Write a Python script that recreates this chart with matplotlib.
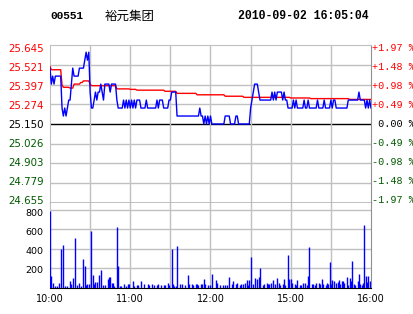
import numpy as np
import matplotlib
matplotlib.use("Agg")
import matplotlib.pyplot as plt
from matplotlib import transforms

# ---------------- data ----------------
stock_code = "00551"
stock_name = "裕元集团"
timestamp = "2010-09-02 16:05:04"
prev_close = 25.150

price = [
    25.50, 25.40, 25.45, 25.40, 25.45, 25.45, 25.45, 25.45, 25.45, 25.25,
    25.20, 25.25, 25.20, 25.25, 25.30, 25.30, 25.40, 25.50, 25.45, 25.45,
    25.45, 25.45, 25.50, 25.50, 25.50, 25.50, 25.55, 25.60, 25.55, 25.60,
    25.35, 25.25, 25.25, 25.30, 25.35, 25.30, 25.35, 25.35, 25.40, 25.35,
    25.30, 25.40, 25.40, 25.40, 25.40, 25.35, 25.40, 25.40, 25.40, 25.40,
    25.30, 25.25, 25.25, 25.25, 25.25, 25.30, 25.25, 25.30, 25.25, 25.30,
    25.25, 25.30, 25.25, 25.30, 25.25, 25.30, 25.30, 25.30, 25.25, 25.25,
    25.25, 25.25, 25.30, 25.25, 25.25, 25.25, 25.25, 25.25, 25.25, 25.25,
    25.30, 25.25, 25.30, 25.30, 25.30, 25.25, 25.25, 25.25, 25.25, 25.30,
    25.30, 25.35, 25.35, 25.35, 25.35, 25.20, 25.20, 25.20, 25.20, 25.20,
    25.20, 25.20, 25.20, 25.20, 25.20, 25.20, 25.20, 25.20, 25.20, 25.20,
    25.20, 25.20, 25.25, 25.20, 25.20, 25.15, 25.20, 25.15, 25.20, 25.15,
    25.20, 25.15, 25.15, 25.15, 25.15, 25.15, 25.15, 25.15, 25.15, 25.15,
    25.15, 25.20, 25.20, 25.20, 25.20, 25.15, 25.15, 25.15, 25.15, 25.20,
    25.20, 25.15, 25.15, 25.15, 25.15, 25.15, 25.15, 25.15, 25.15, 25.15,
    25.25, 25.30, 25.35, 25.40, 25.40, 25.40, 25.35, 25.30, 25.30, 25.30,
    25.30, 25.30, 25.30, 25.30, 25.30, 25.30, 25.35, 25.30, 25.35, 25.30,
    25.35, 25.35, 25.35, 25.35, 25.30, 25.35, 25.30, 25.30, 25.25, 25.25,
    25.25, 25.25, 25.30, 25.25, 25.30, 25.25, 25.25, 25.25, 25.25, 25.25,
    25.30, 25.25, 25.25, 25.30, 25.25, 25.25, 25.25, 25.25, 25.25, 25.25,
    25.30, 25.25, 25.25, 25.25, 25.25, 25.30, 25.25, 25.25, 25.25, 25.25,
    25.30, 25.25, 25.30, 25.30, 25.25, 25.25, 25.25, 25.25, 25.25, 25.25,
    25.25, 25.25, 25.25, 25.30, 25.30, 25.30, 25.30, 25.30, 25.30, 25.30,
    25.30, 25.35, 25.30, 25.30, 25.30, 25.30, 25.25, 25.30, 25.25, 25.30,
    25.25,
]

# average price line: value holds from each start minute to the next
avg_start = [0, 1, 9, 10, 15, 18, 23, 25, 30, 31, 50, 60, 65, 86, 95, 110,
             131, 145, 180, 195, 224, 240]
avg_value = [25.51, 25.49, 25.395, 25.38, 25.375, 25.40, 25.41, 25.42, 25.40,
             25.39, 25.37, 25.367, 25.362, 25.355, 25.342, 25.333, 25.324,
             25.317, 25.313, 25.309, 25.304, 25.304]

vol_minute = [0, 1, 2, 4, 5, 7, 8, 10, 11, 13, 15, 16, 17, 19, 20, 22, 23, 25, 26, 27,
              28, 29, 31, 32, 33, 34, 35, 37, 38, 40, 41, 43, 44, 45, 46, 47, 48, 50, 51, 52,
              53, 55, 57, 58, 59, 62, 63, 65, 66, 68, 70, 73, 74, 76, 78, 80, 81, 83, 85, 86,
              88, 89, 91, 92, 93, 94, 95, 97, 99, 101, 103, 104, 106, 107, 109, 110, 111, 113, 114, 115,
              116, 118, 120, 121, 124, 125, 127, 129, 131, 132, 134, 136, 137, 139, 140, 142, 143, 144, 146, 147,
              148, 149, 150, 152, 153, 155, 156, 157, 159, 160, 162, 163, 164, 165, 167, 168, 170, 171, 172, 174,
              175, 176, 178, 179, 180, 181, 183, 184, 185, 187, 188, 189, 191, 192, 193, 194, 196, 197, 198, 199,
              201, 202, 203, 204, 206, 207, 208, 209, 210, 211, 212, 214, 215, 216, 217, 218, 219, 220, 222, 223,
              224, 225, 226, 227, 228, 230, 231, 232, 233, 234, 235, 236, 237, 238, 239]
vol_value = [780, 123, 53, 20, 25, 53, 396, 437, 25, 25, 68, 45, 102, 512, 30, 53, 25, 300, 222, 30,
             45, 45, 580, 136, 40, 60, 65, 130, 180, 30, 30, 88, 110, 110, 55, 55, 25, 618, 222, 25,
             25, 45, 25, 45, 45, 72, 25, 30, 30, 72, 40, 45, 35, 40, 35, 35, 40, 30, 35, 30,
             50, 35, 396, 45, 25, 25, 427, 40, 40, 30, 130, 40, 40, 30, 40, 40, 30, 40, 45, 95,
             40, 35, 30, 140, 78, 55, 30, 30, 30, 30, 112, 40, 68, 40, 50, 30, 40, 40, 50, 85,
             30, 85, 316, 40, 102, 95, 109, 204, 30, 40, 50, 40, 40, 55, 85, 40, 102, 55, 35, 40,
             92, 30, 340, 92, 92, 50, 40, 30, 82, 30, 35, 50, 55, 30, 120, 418, 40, 40, 30, 55,
             55, 40, 92, 40, 35, 50, 40, 260, 40, 85, 70, 55, 60, 85, 45, 70, 70, 55, 110, 35,
             100, 70, 272, 40, 30, 75, 140, 40, 30, 50, 640, 120, 60, 120, 75]

price_ticks = [25.645, 25.521, 25.397, 25.274, 25.150, 25.026, 24.903, 24.779, 24.655]
pct_labels = ["+1.97 %", "+1.48 %", "+0.98 %", "+0.49 %", " 0.00 %",
              "-0.49 %", "-0.98 %", "-1.48 %", "-1.97 %"]
vol_ticks = [200, 400, 600, 800]
time_ticks = [0, 60, 120, 180, 240]
time_labels = ["10:00", "11:00", "12:00", "15:00", "16:00"]
grid_minutes = [30, 60, 90, 120, 150, 180, 210]

# ---------------- style ----------------
RED = "#ff0000"
GREEN = "#005a00"
BLUE = "#0000ff"
GRID = "#c0c0c0"
W, H = 414, 314

fig = plt.figure(figsize=(W / 100, H / 100), dpi=100)
fig.patch.set_facecolor("white")

axp = fig.add_axes([50 / W, (H - 203) / H, 321 / W, 158 / H])
axv = fig.add_axes([50 / W, (H - 288) / H, 321 / W, 85 / H])

minutes = np.arange(len(price))
avg_series = np.repeat(avg_value[:-1], np.diff(avg_start))
avg_series = np.append(avg_series, avg_value[-1])


def shift(px):
    return transforms.ScaledTranslation(0, -px / 100, fig.dpi_scale_trans)


# ---- price panel ----
axp.set_xlim(0, 240)
axp.set_ylim(price_ticks[-1], price_ticks[0])
for t in price_ticks[1:]:
    black = abs(t - prev_close) < 1e-9 or t == price_ticks[-1]
    axp.axhline(t, color="black" if black else GRID, lw=1.0, zorder=1)
for m in grid_minutes:
    axp.axvline(m, color=GRID, lw=1.0, zorder=1)
axp.plot(minutes, avg_series, color=RED, lw=1.0, zorder=3)
axp.plot(minutes, price, color=BLUE, lw=1.0, zorder=4)

for s in ["left", "top"]:
    axp.spines[s].set_color(GRID)
axp.spines["right"].set_color("#909090")
axp.spines["bottom"].set_color("black")
axp.set_xticks([])
axp.set_yticks(price_ticks)
axp.set_yticklabels([f"{t:.3f}" for t in price_ticks])
axp.tick_params(axis="y", length=0, pad=4.5, labelsize=7.4)
n = len(price_ticks)
for i, (lab, t) in enumerate(zip(axp.get_yticklabels(), price_ticks)):
    lab.set_fontfamily("DejaVu Sans")
    lab.set_color(RED if t > prev_close + 1e-9 else ("black" if abs(t - prev_close) < 1e-9 else GREEN))
    lab.set_transform(lab.get_transform() + shift(3.4 - 6.4 * i / (n - 1)))

for i, (t, lab) in enumerate(zip(price_ticks, pct_labels)):
    c = RED if lab.startswith("+") else (GREEN if lab.startswith("-") else "black")
    tr = transforms.blended_transform_factory(axp.transAxes, axp.transData) + shift(3.4 - 6.4 * i / (n - 1))
    axp.text(1.0 + 1.0 / 321, t, lab, transform=tr, ha="left", va="center",
             fontsize=7.3, family="Liberation Mono", color=c, clip_on=False)

# ---- volume panel ----
axv.set_xlim(0, 240)
axv.set_ylim(0, 800 * 85 / 78.5)
for t in vol_ticks:
    axv.axhline(t, color=GRID, lw=1.0, zorder=1)
for m in grid_minutes:
    axv.axvline(m, color=GRID, lw=1.0, zorder=1)
axv.vlines(vol_minute, 0, vol_value, color=BLUE, lw=1.0, zorder=3)
axv.spines["top"].set_visible(False)
axv.spines["left"].set_color(GRID)
axv.spines["right"].set_color("#909090")
axv.spines["bottom"].set_color("black")
axv.set_yticks(vol_ticks)
axv.set_yticklabels([str(v) for v in vol_ticks])
axv.tick_params(axis="y", length=0, pad=4.5, labelsize=6.8)
for lab, off in zip(axv.get_yticklabels(), [1.0, 1.7, 2.7, 3.5]):
    lab.set_transform(lab.get_transform() + shift(off))
axv.set_xticks(time_ticks)
axv.set_xticklabels(time_labels)
axv.tick_params(axis="x", length=0, pad=4, labelsize=7.0)

# ---- header ----
fig.text(50 / W, (H - 16) / H, stock_code, fontsize=8, family="Liberation Mono",
         weight="bold", ha="left", va="center")
fig.text(105 / W, (H - 16) / H, stock_name, fontsize=9, family="Noto Sans CJK SC",
         ha="left", va="center")
fig.text(238 / W, (H - 16) / H, timestamp, fontsize=8.3, family="Liberation Mono",
         weight="bold", ha="left", va="center")

fig.savefig("out.png", dpi=100)
